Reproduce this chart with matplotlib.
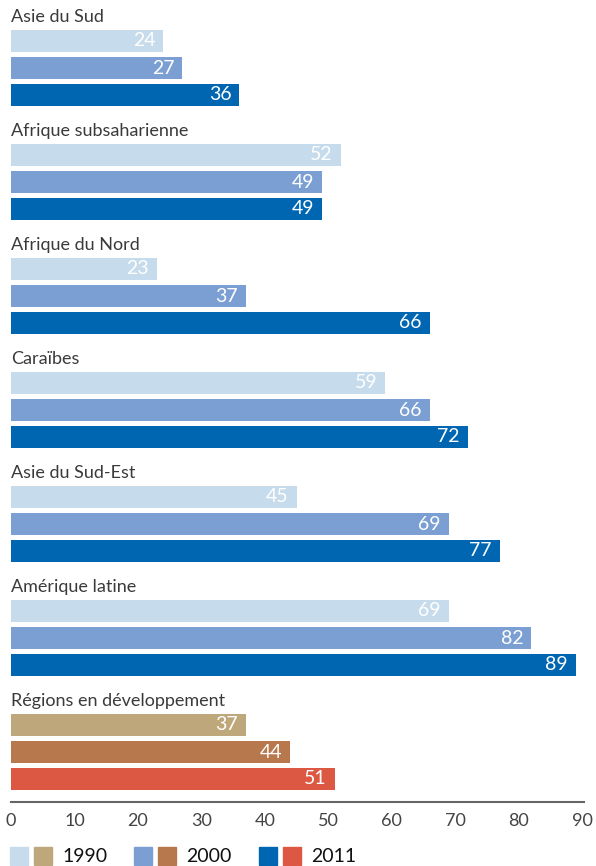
import matplotlib.pyplot as plt
from matplotlib.patches import Rectangle
from matplotlib.transforms import offset_copy

plt.rcParams['font.family'] = ['Lato', 'DejaVu Sans']

regions = ['Asie du Sud', 'Afrique subsaharienne', 'Afrique du Nord', 'Caraïbes',
           'Asie du Sud-Est', 'Amérique latine', 'Régions en développement']
years = ['1990', '2000', '2011']
v1990 = [24, 52, 23, 59, 45, 69, 37]
v2000 = [27, 49, 37, 66, 69, 82, 44]
v2011 = [36, 49, 66, 72, 77, 89, 51]

blues = ['#c6dcec', '#7b9fd2', '#0066b1']
browns = ['#bea77a', '#b8784e', '#dc5842']

W, H = 596, 866
fig = plt.figure(figsize=(W / 100, H / 100), dpi=100)

# axes laid out in pixel units: y runs from the top of the figure down to the axis line
axis_y = 802
left, right = 11, 584
ax = fig.add_axes([left / W, (H - axis_y) / H, (right - left) / W, axis_y / H])
ax.set_xlim(0, 90.3)
ax.set_ylim(axis_y, 0)

group_step, title_off, bar_off, bar_step, bar_h = 114, 17, 41, 27, 22
series = [v1990, v2000, v2011]

for g, name in enumerate(regions):
    top = g * group_step
    ax.text(0, top + title_off, name, ha='left', va='center', fontsize=13,
            color='#3a3a3a')
    cols = browns if g == len(regions) - 1 else blues
    for j, vals in enumerate(series):
        y = top + bar_off + j * bar_step
        ax.barh(y, vals[g], height=bar_h, color=cols[j], left=0)
        ax.text(vals[g], y, str(vals[g]), ha='right', va='center', fontsize=14,
                color='white',
                transform=offset_copy(ax.transData, fig=fig, x=-8, y=0, units='dots'))

for s in ['top', 'right', 'left']:
    ax.spines[s].set_visible(False)
ax.spines['bottom'].set_color('#666666')
ax.spines['bottom'].set_linewidth(1.5)
ax.set_yticks([])
ax.set_xticks(range(0, 91, 10))
ax.tick_params(axis='x', length=0, pad=8, labelsize=13, labelcolor='#444444')

# legend: two swatches per year (regional / developing), then the year
sw = 18
legend_x = [10, 134, 259]
for k, yr in enumerate(years):
    x0 = legend_x[k]
    for c, col in enumerate([blues[k], browns[k]]):
        fig.add_artist(Rectangle(((x0 + c * 24) / W, 1 / H),
                                 sw / W, sw / H, transform=fig.transFigure,
                                 color=col, clip_on=False))
    fig.text((x0 + 52) / W, (H - 856) / H, yr, ha='left', va='center',
             fontsize=14, color='#111111')

fig.savefig('out.png', dpi=100)
